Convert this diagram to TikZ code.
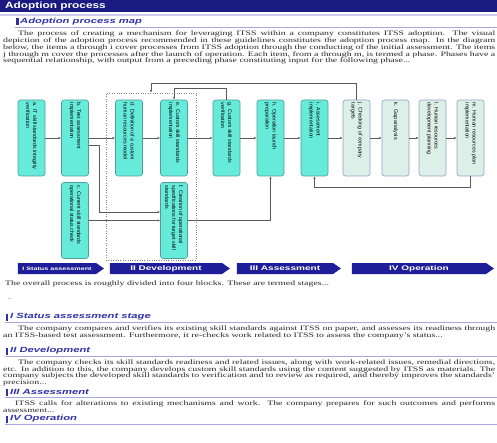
\documentclass[tikz,border=0pt]{standalone}
\usepackage{fontspec}
\setmainfont{Liberation Serif}[FakeStretch=1.45]
\setsansfont{Liberation Sans}
\newfontfamily\headfont{Liberation Sans}[FakeStretch=1.3]
\newfontfamily\subheadfont{Liberation Sans}[FakeStretch=1.5]
\usetikzlibrary{positioning,arrows.meta,shapes.symbols}

\definecolor{navy}{HTML}{1A1A80}
\definecolor{bannerblue}{HTML}{1E1E9A}
\definecolor{headblue}{HTML}{3030A8}
\definecolor{ruleblue}{HTML}{A8A8E0}
\definecolor{phasecyan}{HTML}{66EADA}
\definecolor{phaseedge}{HTML}{4F9E9A}
\definecolor{opfill}{HTML}{DCEFE8}
\definecolor{opedge}{HTML}{8FA3C4}
\definecolor{flowgray}{HTML}{5A5A5A}

% phase label, turned to read downwards
\newcommand{\phaselabel}[1]{\rotatebox{-90}{\parbox[c]{70pt}{\raggedright #1}}}

\tikzset{
  phase/.style={draw=phaseedge, fill=phasecyan, rounded corners=2.5pt,
    minimum width=27pt, minimum height=76pt, inner sep=0pt, line width=0.6pt,
    font=\sffamily\fontsize{5.3}{7}\selectfont, text=black},
  opphase/.style={phase, draw=opedge, fill=opfill},
  flow/.style={draw=flowgray, line width=0.6pt, -{Latex[length=2.6pt,width=2.2pt]}},
  stage/.style={signal, signal to=east, signal pointer angle=70, fill=bannerblue,
    text=white, minimum height=11pt, inner sep=0pt,
    font=\subheadfont\bfseries\fontsize{6.7}{7}\selectfont},
  devblock/.style={draw=gray, dotted, minimum width=90pt, minimum height=167pt, inner sep=0pt},
  bodytext/.style={anchor=north west, inner sep=0pt, align=left,
    font=\fontsize{6.8}{6.75}\selectfont, text=black!85},
  subhead/.style={anchor=west, inner sep=0pt, text=headblue,
    font=\subheadfont\bfseries\itshape\fontsize{7.5}{8}\selectfont},
  marker/.style={fill=headblue},
  headrule/.style={draw=ruleblue, line width=0.8pt}
}

\begin{document}
\begin{tikzpicture}[x=1pt,y=-1pt]
  \useasboundingbox (0,0) rectangle (497,443);
  \clip (0,0) rectangle (497,443);

  % page title bar
  \fill[navy] (0,0) rectangle (497,12.5);
  \node[anchor=west, inner sep=0pt, text=white, font=\headfont\bfseries\fontsize{9.1}{10}\selectfont] (title) at (5,6.5) {Adoption process};
  \draw[ruleblue!60, line width=1.2pt] (0,15) -- (497,15);

  % map heading and intro
  \fill[marker] (16,18.5) rectangle (18.5,25);
  \node[subhead] (maphead) at (20,21.5) {Adoption process map};
  \draw[headrule] (15,27.5) -- (497,27.5);
  \node[bodytext] (intro) at (3,31) {%
    \hspace*{15pt}\makebox[477pt][s]{The process of creating a mechanism for leveraging ITSS within a company constitutes ITSS adoption. The visual}\\
    \makebox[492pt][s]{depiction of the adoption process recommended in these guidelines constitutes the adoption process map. In the diagram}\\
    \makebox[492pt][s]{below, the items a through i cover processes from ITSS adoption through the conducting of the initial assessment. The items}\\
    \makebox[492pt][s]{j through m cover the processes after the launch of operation. Each item, from a through m, is termed a phase. Phases have a}\\
    sequential relationship, with output from a preceding phase constituting input for the following phase...};

  % development block
  \node[devblock] (dev) at (151,176.5) {};

  % phases, top row
  \node[phase] (a) at (31.5,138) {\phaselabel{a. IT skill standards integrity\\verification}};
  \node[phase] (b) at (75,138) {\phaselabel{b. Test assessment\\implementation}};
  \node[phase] (d) at (129,138) {\phaselabel{d. Definition of a custom\\human resources model}};
  \node[phase] (e) at (174,138) {\phaselabel{e. Custom skill standards\\implementation}};
  \node[phase] (g) at (226.5,138) {\phaselabel{g. Custom skill standards\\verification}};
  \node[phase] (h) at (270.5,138) {\phaselabel{h. Operation launch\\preparation}};
  \node[phase] (i) at (314.5,138) {\phaselabel{i. Assessment\\implementation}};
  \node[opphase] (j) at (356.5,138) {\phaselabel{j. Checking of company\\targets}};
  \node[opphase] (k) at (395.5,138) {\phaselabel{k. Gap analysis}};
  \node[opphase] (l) at (432.5,138) {\phaselabel{l. Human resources\\development planning}};
  \node[opphase] (m) at (470.5,138) {\phaselabel{m. Human resources plan\\implementation}};

  % phases, bottom row
  \node[phase] (c) at (75,220.5) {\phaselabel{c. Current skill standards\\operational status check}};
  \node[phase] (f) at (174,220.5) {\phaselabel{f. Creation of operational\\specifications for target skill\\standards}};

  % sequence
  \draw[flow] (a) -- (b);
  \draw[flow] (b) -- (d);
  \draw[flow] (d) -- (e);
  \draw[flow] (e) -- (g);
  \draw[flow] (g) -- (h);
  \draw[flow] (h) -- (i);
  \draw[flow] (i) -- (j);
  \draw[flow] (j) -- (k);
  \draw[flow] (k) -- (l);
  \draw[flow] (l) -- (m);
  \draw[flow] ([yshift=-7pt]b.east) -- ++(10,0) |- ([yshift=8.5pt]f.west);
  \draw[flow] (c) -- (f);
  \draw[flow] (f.east) -| (h.south);

  % feedback loops
  \draw[flow] (g.north) -- ++(0,-11) -| (e.north);
  \draw[flow] (j.north) -- ++(0,-16) -| (dev.north);
  \draw[flow] (m.south) -- ++(0,11) -| (i.south);

  % stages
  \node[stage, minimum width=86pt, font=\subheadfont\bfseries\fontsize{4.8}{5}\selectfont] (s1) at (57,268.5) {I Status assessment};
  \node[stage, minimum width=120pt] (s2) at (166,268.5) {II Development};
  \node[stage, minimum width=104pt] (s3) at (285,268.5) {III Assessment};
  \node[stage, minimum width=142pt] (s4) at (419,268.5) {IV Operation};

  \node[bodytext] (overall) at (5,280.5) {The overall process is roughly divided into four blocks. These are termed stages...};
  \node[bodytext, text=black!50] (blank) at (8,298) {-};

  % stage I
  \fill[marker] (5.5,314) rectangle (8,320.5);
  \node[subhead] (head1) at (10,317) {I Status assessment stage};
  \draw[headrule] (5,322) -- (497,322);
  \node[bodytext] (text1) at (3,325.5) {%
    \hspace*{15pt}\makebox[477pt][s]{The company compares and verifies its existing skill standards against ITSS on paper, and assesses its readiness through}\\
    an ITSS-based test assessment. Furthermore, it re-checks work related to ITSS to assess the company's status...};

  % stage II
  \fill[marker] (5.5,348) rectangle (8,354.5);
  \node[subhead] (head2) at (10,351) {II Development};
  \draw[headrule] (5,356) -- (497,356);
  \node[bodytext] (text2) at (3,359.5) {%
    \hspace*{15pt}\makebox[477pt][s]{The company checks its skill standards readiness and related issues, along with work-related issues, remedial directions,}\\
    \makebox[492pt][s]{etc. In addition to this, the company develops custom skill standards using the content suggested by ITSS as materials. The}\\
    \makebox[492pt][s]{company subjects the developed skill standards to verification and to review as required, and thereby improves the standards'}\\
    precision...};

  % stage III
  \fill[marker] (5.5,389) rectangle (8,395.5);
  \node[subhead] (head3) at (10,392) {III Assessment};
  \draw[headrule] (5,397) -- (497,397);
  \node[bodytext] (text3) at (3,400.5) {%
    \hspace*{12pt}\makebox[480pt][s]{ITSS calls for alterations to existing mechanisms and work. The company prepares for such outcomes and performs}\\
    assessment...};

  % stage IV
  \fill[marker] (5.5,416) rectangle (8,422.5);
  \node[subhead] (head4) at (10,419) {IV Operation};
  \draw[headrule] (5,424.5) -- (497,424.5);
\end{tikzpicture}
\end{document}
